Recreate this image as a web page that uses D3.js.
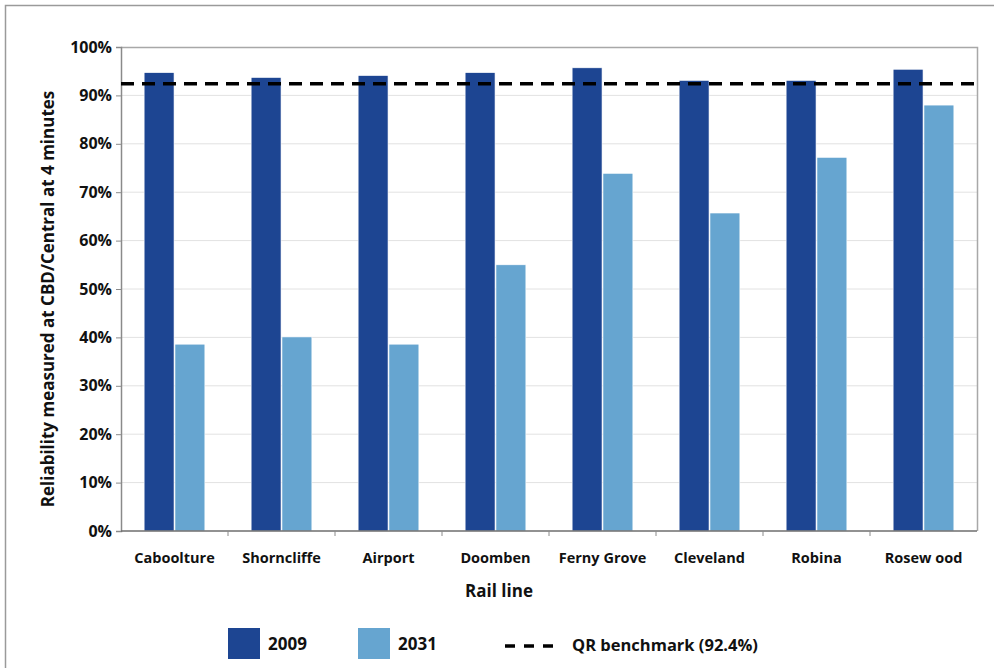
<!DOCTYPE html>
<html>
<head>
<meta charset="utf-8">
<script src="https://cdn.jsdelivr.net/npm/d3@7"></script>
<style>
	body { margin: 0; background: #fff; }
	text { font-family: "Open Sans", sans-serif; font-weight: 700; fill: #111; }
</style>
</head>
<body>
<div id="app"></div>
<script>
// Reliability per rail line, 2009 vs 2031.

var lines = ["Caboolture", "Shorncliffe", "Airport", "Doomben", "Ferny Grove", "Cleveland", "Robina", "Rosew ood"];
var years = ["2009", "2031"];
var values2009 = [94.7, 93.7, 94.1, 94.7, 95.7, 93.1, 93.1, 95.4];
var values2031 = [38.6, 40.1, 38.6, 55.0, 73.9, 65.7, 77.2, 88.0];
var yTicks = [0, 10, 20, 30, 40, 50, 60, 70, 80, 90, 100];
var benchmark = 92.4;
var benchmarkLabel = "QR benchmark (92.4%)";

var width = 994, height = 668;
var plotLeft = 121, plotRight = 977, plotTop = 47, plotBottom = 531;
var colors = {"2009": "#1d4592", "2031": "#66a5d0"};

var vis = d3.select("#app")
	.append("svg")
	.attr("width", width)
	.attr("height", height);

// outer frame (only left and top edges show)
vis.append("path")
	.attr("d", "M5.5," + height + "V5.5H" + width)
	.attr("fill", "none").attr("stroke", "#9a9a9a").attr("stroke-width", 1.5);

var x = d3.scaleBand().domain(lines).range([plotLeft, plotRight]).paddingInner(0).paddingOuter(0);
var xSub = d3.scaleBand().domain(years).range([0, x.bandwidth()]).paddingInner(0.03).paddingOuter(0.75);
var y = d3.scaleLinear().domain([0, 100]).range([plotBottom, plotTop]);

// gridlines
vis.append("g").selectAll("line")
	.data(yTicks.slice(1, -1))
	.join("line")
	.attr("x1", plotLeft).attr("x2", plotRight)
	.attr("y1", function (d) {return y(d);}).attr("y2", function (d) {return y(d);})
	.attr("stroke", "#e2e2e2").attr("stroke-width", 1);

// plot border top / right
vis.append("path")
	.attr("d", "M" + plotLeft + "," + (plotTop + 0.5) + "H" + (plotRight + 0.5) + "V" + plotBottom)
	.attr("fill", "none").attr("stroke", "#a8a8a8").attr("stroke-width", 1.5);

// bars
var data = lines.map(function (l, i) {return {line: l, "2009": values2009[i], "2031": values2031[i]};});
var groups = vis.append("g").selectAll("g")
	.data(data)
	.join("g")
	.attr("transform", function (d) {return "translate(" + x(d.line) + ",0)";});
groups.selectAll("rect")
	.data(function (d) {return years.map(function (k) {return {key: k, value: d[k]};});})
	.join("rect")
	.attr("x", function (d) {return xSub(d.key);})
	.attr("width", xSub.bandwidth())
	.attr("y", function (d) {return y(d.value);})
	.attr("height", function (d) {return plotBottom - y(d.value);})
	.attr("fill", function (d) {return colors[d.key];})
	.attr("stroke", "#ffffff").attr("stroke-width", 0.6);

// y axis
var yAxis = vis.append("g")
	.attr("transform", "translate(" + plotLeft + ",0)")
	.call(d3.axisLeft(y).tickValues(yTicks).tickSize(5).tickPadding(4)
		.tickFormat(function (d) {return d + "%";}));
yAxis.select(".domain").attr("stroke", "#8a8a8a").attr("stroke-width", 1.5);
yAxis.selectAll(".tick line").attr("stroke", "#8a8a8a");
yAxis.selectAll(".tick text")
	.style("font-family", "\"Open Sans\", sans-serif").style("font-weight", 700)
	.style("font-size", "16px").attr("fill", "#111");

// x axis: ticks sit on category boundaries
var xAxis = vis.append("g").attr("transform", "translate(0," + plotBottom + ")");
xAxis.append("line")
	.attr("x1", plotLeft).attr("x2", plotRight)
	.attr("stroke", "#6e6e6e").attr("stroke-width", 1.5);
xAxis.selectAll("line.tk")
	.data(lines.slice(1))
	.join("line").attr("class", "tk")
	.attr("x1", function (d) {return x(d);}).attr("x2", function (d) {return x(d);})
	.attr("y1", 0).attr("y2", 5)
	.attr("stroke", "#8a8a8a");
xAxis.selectAll("text")
	.data(lines)
	.join("text")
	.attr("x", function (d) {return x(d) + x.bandwidth() / 2;})
	.attr("y", 32)
	.attr("text-anchor", "middle")
	.style("font-size", "14.5px")
	.text(function (d) {return d;});

// axis titles
vis.append("text")
	.attr("x", 499).attr("y", 597)
	.attr("text-anchor", "middle").style("font-size", "17px")
	.text("Rail line");
vis.append("text")
	.attr("transform", "translate(54,299) rotate(-90)")
	.attr("text-anchor", "middle").style("font-size", "17px")
	.text("Reliability measured at CBD/Central at 4 minutes");

// benchmark line
vis.append("line")
	.attr("x1", plotLeft).attr("x2", plotRight)
	.attr("y1", y(benchmark)).attr("y2", y(benchmark))
	.attr("stroke", "#000").attr("stroke-width", 3.5)
	.attr("stroke-dasharray", "13,8");

// legend
var legend = vis.append("g");
var legendX = [228, 358];
years.forEach(function (k, i) {
	legend.append("rect")
		.attr("x", legendX[i]).attr("y", 628)
		.attr("width", 32).attr("height", 31)
		.attr("fill", colors[k]);
	legend.append("text")
		.attr("x", legendX[i] + 40).attr("y", 650)
		.style("font-size", "17px")
		.text(k);
});
legend.append("line")
	.attr("x1", 505).attr("x2", 553)
	.attr("y1", 646).attr("y2", 646)
	.attr("stroke", "#000").attr("stroke-width", 3.5)
	.attr("stroke-dasharray", "10,9");
legend.append("text")
	.attr("x", 572).attr("y", 651)
	.style("font-size", "16.5px")
	.text(benchmarkLabel);
</script>
</body>
</html>
